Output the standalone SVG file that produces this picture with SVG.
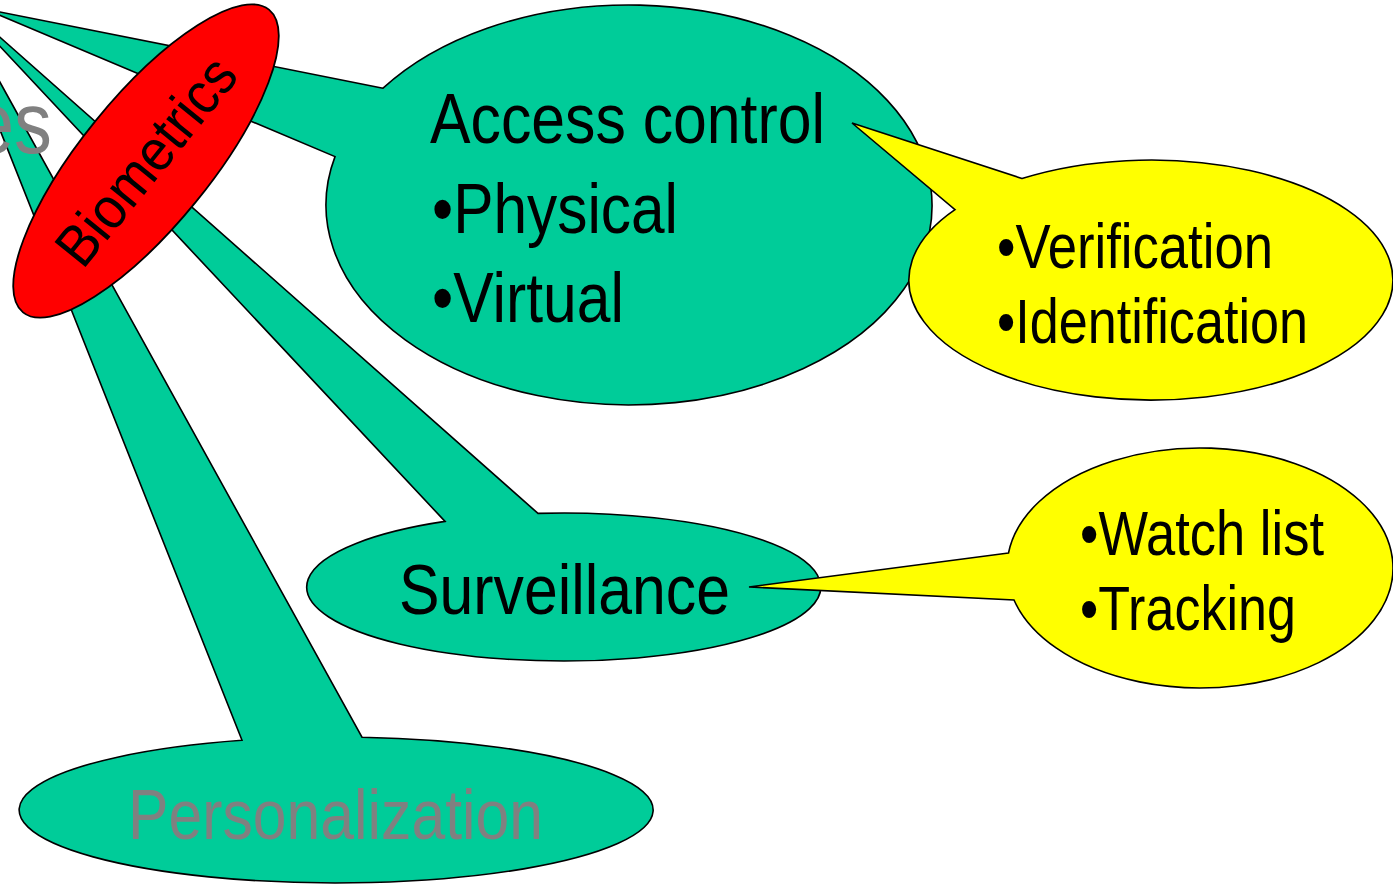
<svg xmlns="http://www.w3.org/2000/svg" width="1393" height="885" viewBox="0 0 1393 885">
<style>
.g{fill:#00CC99;stroke:#000;stroke-width:1.6;stroke-linejoin:miter}
.y{fill:#FFFF00;stroke:#000;stroke-width:1.6}
.r{fill:#FF0000;stroke:#000;stroke-width:1.8}
text{font-family:"Liberation Sans",Arial,sans-serif;fill:#000}
.big{font-size:71px}
.mid{font-size:63px}
.gray{fill:#808080}
</style>
<rect width="1393" height="885" fill="#fff"/>
<g id="connectors">
</g>
<g id="personalization">
<path class="g" d="M242,740.3 L-67,-39 L362,737.25 A317 73 0 1 1 242,740.3 Z"/>
<text class="big gray" x="128" y="839" textLength="415" lengthAdjust="spacingAndGlyphs">Personalization</text>
</g>
<g id="uses-label">
<text class="gray" x="52" y="153" font-size="88" text-anchor="end" textLength="80" lengthAdjust="spacingAndGlyphs">es</text>
</g>
<g id="surveillance">
<path class="g" d="M445,521.4 L-50,-7 L538,513.4 A257 74 0 1 1 445,521.4 Z"/>
<text class="big" x="399" y="614" textLength="331" lengthAdjust="spacingAndGlyphs">Surveillance</text>
</g>
<g id="access-control">
<path class="g" d="M383,88.2 L-15,9 L335,156.6 A303 200 0 1 0 383,88.2 Z"/>
<text class="big" x="430" y="143" textLength="395" lengthAdjust="spacingAndGlyphs">Access control</text>
<text class="big" x="432" y="233" textLength="246" lengthAdjust="spacingAndGlyphs">•Physical</text>
<text class="big" x="432" y="322" textLength="192" lengthAdjust="spacingAndGlyphs">•Virtual</text>
</g>
<g id="verification-callout">
<path class="y" d="M1022,178.5 L852,123 L955,209.6 A242 120 0 1 0 1022,178.5 Z"/>
<text class="mid" x="997" y="268" textLength="276" lengthAdjust="spacingAndGlyphs">•Verification</text>
<text class="mid" x="997" y="343" textLength="311" lengthAdjust="spacingAndGlyphs">•Identification</text>
</g>
<g id="watchlist-callout">
<path class="y" d="M1008.5,553 L749,587 L1014,600 A193 120 0 1 0 1008.5,553 Z"/>
<text class="mid" x="1080" y="555" textLength="244" lengthAdjust="spacingAndGlyphs">•Watch list</text>
<text class="mid" x="1080" y="630" textLength="216" lengthAdjust="spacingAndGlyphs">•Tracking</text>
</g>
<g id="biometrics" transform="translate(146,161) rotate(-50.9)">
<ellipse class="r" cx="0" cy="0" rx="195" ry="64.5"/>
<text x="0" y="20" font-size="58" text-anchor="middle" textLength="250" lengthAdjust="spacingAndGlyphs">Biometrics</text>
</g>
</svg>
